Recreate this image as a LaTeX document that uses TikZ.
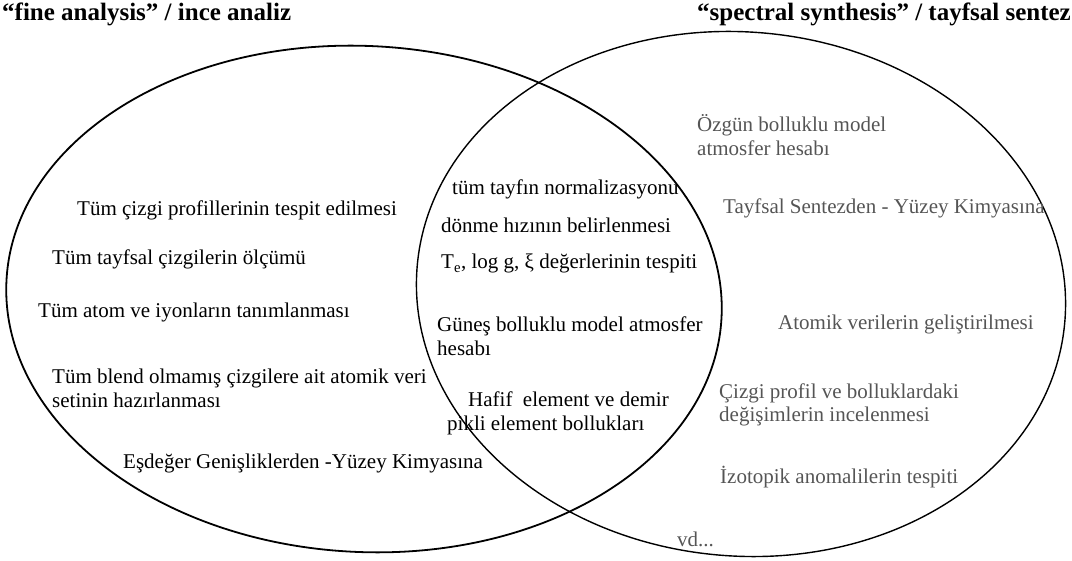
\documentclass[tikz,border=0pt]{standalone}
\usepackage{fontspec}
\setmainfont{Liberation Serif}
\usepackage{xcolor}
\definecolor{txtgray}{HTML}{555555}

\begin{document}
\begin{tikzpicture}[x=1pt,y=-1pt,
    ttl/.style={anchor=base west,inner sep=0pt,font=\fontsize{25}{29}\selectfont\bfseries},
    item/.style={anchor=base west,inner sep=0pt,align=left,font=\fontsize{21}{24}\selectfont},
    gitem/.style={item,text=txtgray}]
    \useasboundingbox (0,0) rectangle (1072,561);
    % the two sets
    \draw[line width=1.8pt,rotate around={-3:(364,299)}] (364,299) ellipse [x radius=358, y radius=253];
    \draw[line width=1.4pt,rotate around={-5:(741,294)}] (741,294) ellipse [x radius=325, y radius=262];
    % titles
    \node[ttl] (tfine) at (2,21) {“fine analysis” / ince analiz};
    \node[ttl,anchor=base east] (tsyn) at (1071,21) {“spectral synthesis” / tayfsal sentez};
    % fine analysis only
    \node[item] (fa1) at (77,216) {Tüm çizgi profillerinin tespit edilmesi};
    \node[item] (fa2) at (52,265) {Tüm tayfsal çizgilerin ölçümü};
    \node[item] (fa3) at (38,318) {Tüm atom ve iyonların tanımlanması};
    \node[item] (fa4) at (52,408) {Tüm blend olmamış çizgilere ait atomik veri\\setinin hazırlanması};
    \node[item] (fa5) at (123,468) {Eşdeğer Genişliklerden -Yüzey Kimyasına};
    % common part
    \node[item] (co1) at (452,195) {tüm tayfın normalizasyonu};
    \node[item] (co2) at (441,233) {dönme hızının belirlenmesi};
    \node[item] (co3) at (441,269) {T\textsubscript{e}, log g, ξ değerlerinin tespiti};
    \node[item] (co4) at (437,356) {Güneş bolluklu model atmosfer\\hesabı};
    \node[item] (co5) at (447,431) {\hspace{21pt}Hafif\ \ element ve demir\\pikli element bollukları};
    % spectral synthesis only
    \node[gitem] (ss1) at (697,156) {Özgün bolluklu model\\atmosfer hesabı};
    \node[gitem] (ss2) at (723,214) {Tayfsal Sentezden - Yüzey Kimyasına};
    \node[gitem] (ss3) at (778,330) {Atomik verilerin geliştirilmesi};
    \node[gitem] (ss4) at (719,422) {Çizgi profil ve bolluklardaki\\değişimlerin incelenmesi};
    \node[gitem] (ss5) at (720,484) {İzotopik anomalilerin tespiti};
    \node[gitem] (ss6) at (677,546) {vd...};
\end{tikzpicture}
\end{document}
